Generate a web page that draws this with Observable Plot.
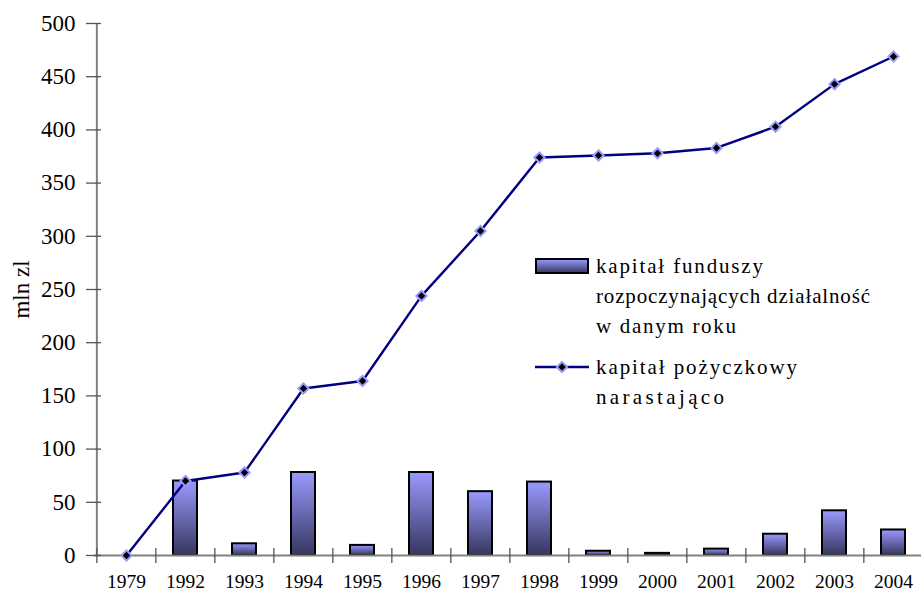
<!DOCTYPE html>
<html>
<head>
<meta charset="utf-8">
<script src="https://cdn.jsdelivr.net/npm/d3@7"></script>
<script src="https://cdn.jsdelivr.net/npm/@observablehq/plot@0.6"></script>
<style>
  html, body { margin: 0; padding: 0; background: white; }
  #chart { width: 921px; height: 603px; overflow: hidden; }
</style>
</head>
<body>
<div id="chart"></div>
<script>
const years = ["1979","1992","1993","1994","1995","1996","1997","1998","1999","2000","2001","2002","2003","2004"];
const fundCapital = [0, 70, 11, 78, 9.5, 78, 60, 69, 4, 2, 6, 20, 42, 24];
const loanCapital = [0, 70, 78, 157, 164, 244, 305, 374, 376, 378, 383, 403, 443, 469];
const yTicks = [0, 50, 100, 150, 200, 250, 300, 350, 400, 450, 500];
const legendBar = ["kapitał funduszy", "rozpoczynających działalność", "w danym roku"];
const legendLine = ["kapitał pożyczkowy", "narastająco"];
const yLabel = "mln zl";

const rows = years.map((year, i) => ({year, fund: fundCapital[i], loan: loanCapital[i]}));
const barRows = rows.filter(d => d.fund > 0);

const W = 921, H = 603, mL = 94, mR = -3, mT = 23, mB = 48;
const step = (W - mL - mR) / years.length;
const serif = "'Liberation Serif', 'Times New Roman', serif";

const svg = Plot.plot({
  width: W,
  height: H,
  marginLeft: mL,
  marginRight: mR,
  marginTop: mT,
  marginBottom: mB,
  style: {fontFamily: serif, fontSize: "22px", background: "white", color: "black", overflow: "visible"},
  x: {type: "band", domain: years, paddingInner: 0.6, paddingOuter: 0.3},
  y: {domain: [0, 500]},
  marks: [
    Plot.barY(barRows, {x: "year", y: "fund", fill: "url(#barGrad)", stroke: "black", strokeWidth: 2}),
    Plot.ruleY([0], {stroke: "#808080", strokeWidth: 2}),
    Plot.ruleX([years[0]], {y1: 0, y2: 500, dx: -step / 2, stroke: "#808080", strokeWidth: 2}),
    Plot.axisY({ticks: yTicks, tickSize: 0, tickPadding: 19, fontSize: 23, label: yLabel, labelAnchor: "center", labelOffset: 82, labelArrow: "none"}),
    Plot.axisY({ticks: yTicks, tickSize: 15, dx: 7, text: null, label: null, stroke: "#555", strokeWidth: 1.3}),
    Plot.axisX({tickSize: 0, tickPadding: 19, fontSize: 19.5, label: null}),
    Plot.axisX({tickSize: 15, dy: -7, dx: -step / 2, text: null, label: null, stroke: "#555", strokeWidth: 1.3}),
    Plot.line(rows, {x: "year", y: "loan", stroke: "#000080", strokeWidth: 2.4}),
    Plot.dot(rows, {x: "year", y: "loan", symbol: "diamond2", r: 4.6, fill: "black", stroke: "#9999ff", strokeWidth: 2})
  ]
});

const s = d3.select(svg);
s.selectAll("g[aria-label='y-axis label'] text, g[aria-label='y-axis label']").attr("font-size", 23);
const grad = s.insert("defs", ":first-child").append("linearGradient")
  .attr("id", "barGrad").attr("x1", 0).attr("y1", 0).attr("x2", 0).attr("y2", 1);
grad.append("stop").attr("offset", "0%").attr("stop-color", "#9a9aff");
grad.append("stop").attr("offset", "100%").attr("stop-color", "#36365f");

// Legend
const barWidths = [167, 274, 140];
const lineWidths = [201, 128];
const lg = s.append("g").attr("font-size", 21).attr("font-family", serif).attr("text-anchor", "start");
lg.append("rect").attr("x", 536).attr("y", 259).attr("width", 52).attr("height", 14)
  .attr("fill", "url(#barGrad)").attr("stroke", "black").attr("stroke-width", 2);
legendBar.forEach((t, i) => {
  lg.append("text").attr("x", 596).attr("y", 273 + i * 30).attr("text-anchor", "start")
    .attr("textLength", barWidths[i]).attr("lengthAdjust", "spacing").text(t);
});
lg.append("line").attr("x1", 535).attr("x2", 589).attr("y1", 367).attr("y2", 367)
  .attr("stroke", "#000080").attr("stroke-width", 2.4);
lg.append("path").attr("d", d3.symbol(d3.symbolDiamond2, Math.PI * 4.6 * 4.6)()).attr("transform", "translate(562,367)")
  .attr("fill", "black").attr("stroke", "#9999ff").attr("stroke-width", 2);
legendLine.forEach((t, i) => {
  lg.append("text").attr("x", 596).attr("y", 374 + i * 30).attr("text-anchor", "start")
    .attr("textLength", lineWidths[i]).attr("lengthAdjust", "spacing").text(t);
});

document.getElementById("chart").appendChild(svg);
</script>
</body>
</html>
